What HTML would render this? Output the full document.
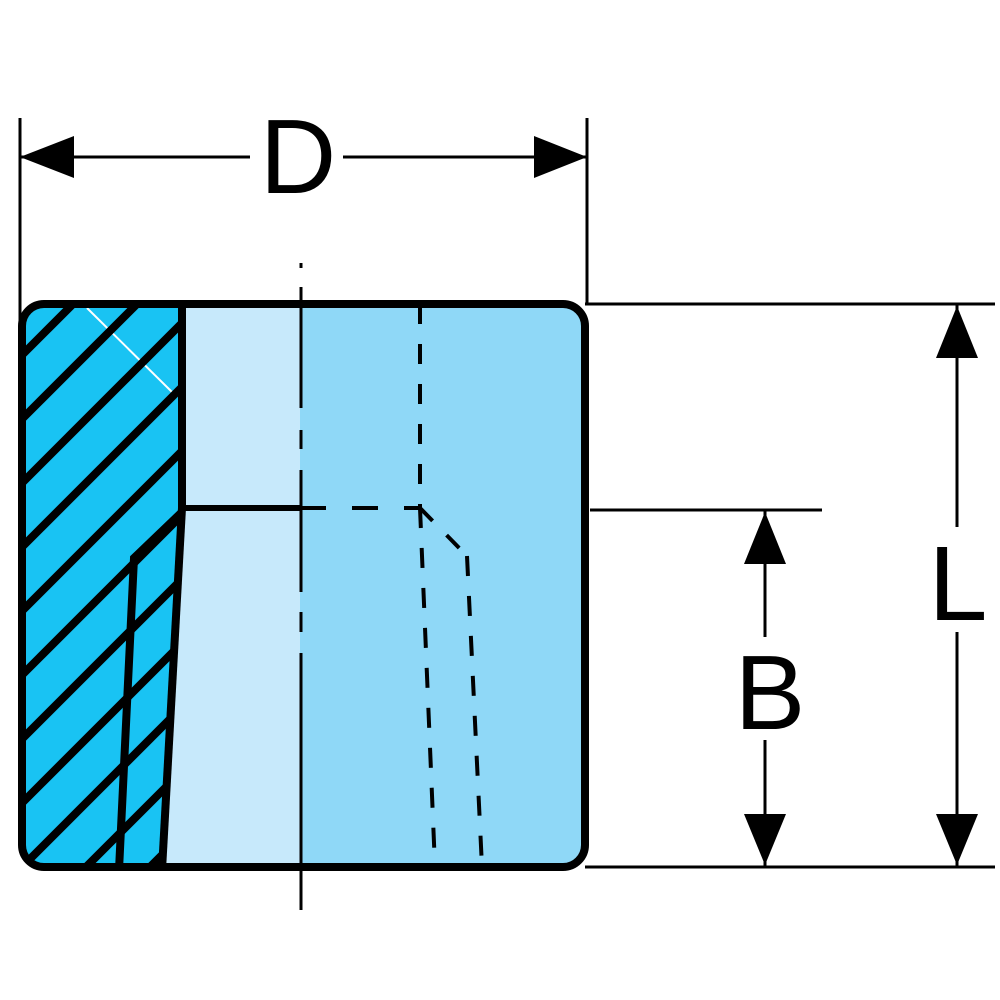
<!DOCTYPE html>
<html><head><style>html,body{margin:0;padding:0;background:#fff;overflow:hidden;width:1000px;height:1000px}svg{display:block}</style></head>
<body>
<svg width="1000" height="1000" viewBox="0 0 1000 1000" xmlns="http://www.w3.org/2000/svg">
<defs>
<clipPath id="hc"><polygon points="22,300 182,300 182,508 162,871 18,871"/></clipPath>
<clipPath id="rr"><rect x="22" y="304" width="563" height="563" rx="22"/></clipPath>
</defs>
<g clip-path="url(#rr)">
<rect x="0" y="300" width="600" height="600" fill="#8fd8f7"/>
<rect x="160" y="300" width="140" height="600" fill="#c7e9fb"/>
<polygon points="22,300 182,300 182,508 162,871 18,871" fill="#19c3f3"/>
<line x1="87" y1="308" x2="173" y2="393" stroke="#fff" stroke-width="2"/>
<g clip-path="url(#hc)" stroke="#000" stroke-width="8">
<line x1="17" y1="296" x2="200" y2="113"/>
<line x1="17" y1="360" x2="300" y2="77"/>
<line x1="17" y1="424" x2="300" y2="141"/>
<line x1="17" y1="488" x2="300" y2="205"/>
<line x1="17" y1="552" x2="300" y2="269"/>
<line x1="17" y1="616" x2="300" y2="333"/>
<line x1="17" y1="680" x2="300" y2="397"/>
<line x1="17" y1="744" x2="300" y2="461"/>
<line x1="17" y1="808" x2="300" y2="525"/>
<line x1="17" y1="872" x2="300" y2="589"/>
<line x1="17" y1="936" x2="300" y2="653"/>
<line x1="17" y1="1000" x2="300" y2="717"/>
<line x1="17" y1="1064" x2="300" y2="781"/>
</g>
<polyline points="182,512 134,558 119,870" fill="none" stroke="#000" stroke-width="8"/>
<line x1="182" y1="304" x2="182" y2="508" stroke="#000" stroke-width="8"/>
<line x1="182" y1="508" x2="162" y2="870" stroke="#000" stroke-width="8"/>
</g>
<line x1="182" y1="508" x2="300" y2="508" stroke="#000" stroke-width="6"/>
<g stroke="#000" stroke-width="4" fill="none">
<line x1="300" y1="508" x2="420" y2="508" stroke-dasharray="26,26"/>
<line x1="420" y1="304" x2="420" y2="508" stroke-dasharray="20,20"/>
<line x1="420" y1="508" x2="435" y2="867" stroke-dasharray="20,20"/>
<line x1="420" y1="508" x2="467" y2="556" stroke-dasharray="18,20"/>
<line x1="467" y1="556" x2="482" y2="867" stroke-dasharray="20,20"/>
</g>
<g stroke="#000" stroke-width="3" fill="none">
<line x1="301" y1="263" x2="301" y2="268"/>
<line x1="301" y1="287" x2="301" y2="408"/>
<line x1="301" y1="430" x2="301" y2="449"/>
<line x1="301" y1="470" x2="301" y2="592"/>
<line x1="301" y1="612" x2="301" y2="632"/>
<line x1="301" y1="653" x2="301" y2="910"/>
</g>
<rect x="22" y="304" width="563" height="563" rx="22" fill="none" stroke="#000" stroke-width="8"/>
<g stroke="#000" stroke-width="3">
<line x1="20" y1="118" x2="20" y2="325"/>
<line x1="587" y1="118" x2="587" y2="304"/>
<line x1="20" y1="157" x2="250" y2="157"/>
<line x1="343" y1="157" x2="587" y2="157"/>
<line x1="585" y1="304" x2="995" y2="304"/>
<line x1="585" y1="867" x2="995" y2="867"/>
<line x1="957" y1="304" x2="957" y2="527"/>
<line x1="957" y1="632" x2="957" y2="867"/>
<line x1="590" y1="510" x2="822" y2="510"/>
<line x1="765" y1="510" x2="765" y2="637"/>
<line x1="765" y1="740" x2="765" y2="867"/>
</g>
<g fill="#000">
<polygon points="20,157 74,136 74,178"/>
<polygon points="587,157 534,136 534,178"/>
<polygon points="957,306 936,358 978,358"/>
<polygon points="957,865 936,814 978,814"/>
<polygon points="765,512 744,564 786,564"/>
<polygon points="765,865 744,814 786,814"/>
</g>
<g font-family="Liberation Sans, sans-serif" font-size="106" fill="#000" text-anchor="middle">
<text x="298" y="193">D</text>
<text x="958" y="620">L</text>
<text x="770" y="729">B</text>
</g>
</svg>
</body></html>
